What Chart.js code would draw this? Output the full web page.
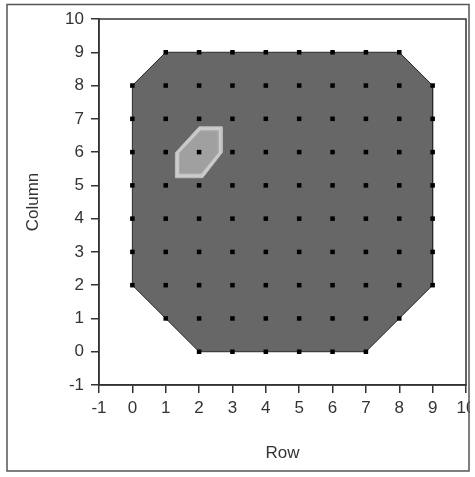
<!DOCTYPE html>
<html>
<head>
<meta charset="utf-8">
<script src="https://cdn.jsdelivr.net/npm/chart.js@4"></script>
<style>
  html,body{margin:0;padding:0;background:#fff;}
  #wrap{width:475px;height:477px;position:relative;}
</style>
</head>
<body>
<div id="wrap"><canvas id="chart" width="475" height="477"></canvas></div>
<script>
/* ---------- DATA ---------- */
// outer region (octagon), Row / Column coords
const octRow = [0, 0, 1, 8, 9, 9, 7, 2, 0];
const octCol = [2, 8, 9, 9, 8, 2, 0, 0, 2];

// light contour near (2,6)
const hexOuterRow = [2.0, 2.69, 2.69, 2.11, 1.29, 1.29, 2.0];
const hexOuterCol = [6.76, 6.76, 5.98, 5.23, 5.23, 5.98, 6.76];
const hexInnerRow = [2.04, 2.57, 2.57, 2.06, 1.41, 1.41, 2.04];
const hexInnerCol = [6.64, 6.64, 5.98, 5.35, 5.35, 5.97, 6.64];

// sample points: for each column, first and last row present
const sampleCols    = [0, 1, 2, 3, 4, 5, 6, 7, 8, 9];
const sampleRowFrom = [2, 1, 0, 0, 0, 0, 0, 0, 0, 1];
const sampleRowTo   = [7, 8, 9, 9, 9, 9, 9, 9, 9, 8];

const axisMin = -1, axisMax = 10;

/* ---------- HELPERS ---------- */
function toXY(xs, ys){
  return xs.map((x,i)=>({x:x, y:ys[i]}));
}
const samplePts = [];
sampleCols.forEach((c,i)=>{
  for(let r=sampleRowFrom[i]; r<=sampleRowTo[i]; r++) samplePts.push({x:r, y:c});
});

const FONT = "'Liberation Sans', Arial, sans-serif";

const framePlugin = {
  id: "frame",
  beforeDraw(chart){
    const ctx = chart.ctx;
    ctx.save();
    ctx.fillStyle = "#fff";
    ctx.fillRect(0,0,chart.width,chart.height);
    ctx.restore();
  },
  afterDraw(chart){
    const a = chart.chartArea, ctx = chart.ctx;
    ctx.save();
    // plot box
    ctx.strokeStyle = "#333";
    ctx.lineWidth = 1.5;
    ctx.strokeRect(a.left, a.top, a.right-a.left, a.bottom-a.top);
    // clip anything past the outer frame, then draw frame
    ctx.fillStyle = "#fff";
    ctx.fillRect(470, 0, chart.width-470, chart.height);
    ctx.strokeStyle = "#555";
    ctx.strokeRect(7, 4.5, 462, 466.5);
    ctx.restore();
  }
};

function axis(title, isY){
  return {
    type: "linear",
    min: axisMin, max: axisMax,
    ticks: {stepSize: 1, color: "#333", font: {family: FONT, size: 17}, padding: isY ? 7 : 5, autoSkip: false, maxRotation: 0},
    grid: {drawOnChartArea: false, drawTicks: true, tickLength: 8, color: "#333", lineWidth: 1.5},
    border: {display: true, color: "#333", width: 1.5},
    title: {display: true, text: title, color: "#333", font: {family: FONT, size: 17}, padding: isY ? {top: 13, bottom: 0} : {top: 0, bottom: 3}},
    afterFit(scale){
      if(isY) scale.width = 89;
      else { scale.height = 82; scale.paddingRight = 0; scale.paddingLeft = 0; }
    }
  };
}

new Chart(document.getElementById("chart"), {
  type: "scatter",
  data: {
    datasets: [
      {data: samplePts, pointStyle: "rect", pointRadius: 3.2, backgroundColor: "#000", borderWidth: 0, showLine: false},
      {data: toXY(hexInnerRow, hexInnerCol), showLine: true, fill: "shape", backgroundColor: "#a0a0a0", borderColor: "#aaaaaa", borderWidth: 1, pointRadius: 0, tension: 0},
      {data: toXY(hexOuterRow, hexOuterCol), showLine: true, fill: "shape", backgroundColor: "#cbcbcb", borderColor: "#bdbdbd", borderWidth: 1, pointRadius: 0, tension: 0},
      {data: toXY(octRow, octCol), showLine: true, fill: "shape", backgroundColor: "#676767", borderColor: "#2a2a2a", borderWidth: 1, pointRadius: 0, tension: 0}
    ]
  },
  options: {
    responsive: false,
    animation: false,
    layout: {padding: {left: 10, right: 9, top: 19, bottom: 10}},
    plugins: {legend: {display: false}, tooltip: {enabled: false}},
    scales: {
      x: axis("Row", false),
      y: axis("Column", true)
    }
  },
  plugins: [framePlugin]
});
</script>
</body>
</html>
